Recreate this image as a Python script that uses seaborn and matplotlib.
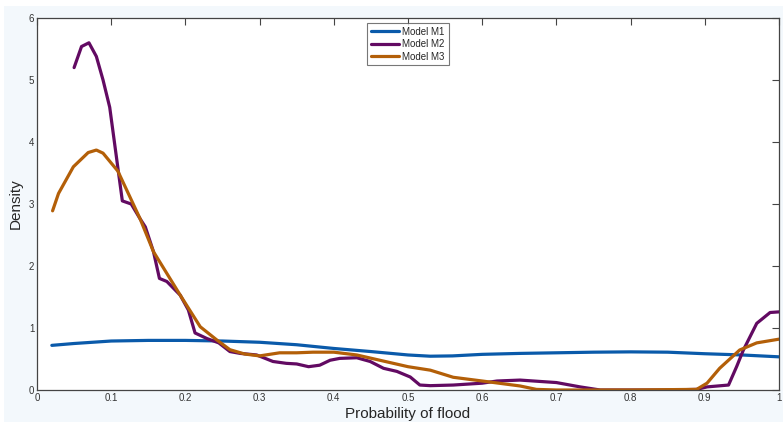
import pandas as pd
import matplotlib.pyplot as plt
import seaborn as sns
from matplotlib.patches import Rectangle

# Density curves
x_m1 = [0.02, 0.05, 0.1, 0.15, 0.2, 0.25, 0.3, 0.35, 0.4, 0.45, 0.5, 0.53, 0.56,
        0.6, 0.65, 0.7, 0.75, 0.8, 0.85, 0.9, 0.95, 1.0]
y_m1 = [0.72, 0.75, 0.79, 0.80, 0.80, 0.79, 0.77, 0.73, 0.67, 0.62, 0.565, 0.545, 0.55,
        0.575, 0.59, 0.60, 0.61, 0.615, 0.61, 0.585, 0.565, 0.535]

x_m2 = [0.05, 0.06, 0.07, 0.08, 0.089, 0.098, 0.115, 0.127, 0.139, 0.146, 0.157, 0.165,
        0.175, 0.193, 0.204, 0.213, 0.229, 0.245, 0.26, 0.274, 0.296, 0.318, 0.336,
        0.35, 0.366, 0.381, 0.395, 0.408, 0.431, 0.449, 0.467, 0.485, 0.503, 0.516,
        0.53, 0.561, 0.6, 0.62, 0.651, 0.7, 0.732, 0.759, 0.8, 0.85, 0.889, 0.903,
        0.932, 0.943, 0.952, 0.97, 0.988, 1.0]
y_m2 = [5.2, 5.54, 5.6, 5.38, 5.0, 4.56, 3.05, 3.0, 2.76, 2.63, 2.23, 1.8,
        1.75, 1.53, 1.29, 0.92, 0.83, 0.76, 0.62, 0.59, 0.565, 0.46, 0.43,
        0.42, 0.376, 0.40, 0.48, 0.51, 0.52, 0.46, 0.35, 0.30, 0.21, 0.08,
        0.07, 0.08, 0.11, 0.145, 0.16, 0.12, 0.05, 0.0, 0.0, 0.0, 0.01, 0.05,
        0.08, 0.38, 0.645, 1.075, 1.25, 1.26]

x_m3 = [0.021, 0.029, 0.049, 0.069, 0.08, 0.089, 0.109, 0.125, 0.139, 0.157, 0.193,
        0.22, 0.242, 0.26, 0.28, 0.30, 0.327, 0.35, 0.372, 0.40, 0.431, 0.462, 0.5,
        0.53, 0.561, 0.6, 0.651, 0.673, 0.7, 0.8, 0.889, 0.903, 0.92, 0.947, 0.97, 1.0]
y_m3 = [2.89, 3.17, 3.6, 3.83, 3.87, 3.82, 3.53, 3.12, 2.76, 2.23, 1.53,
        1.02, 0.81, 0.65, 0.58, 0.55, 0.60, 0.60, 0.61, 0.61, 0.565, 0.48, 0.376,
        0.32, 0.205, 0.145, 0.065, 0.01, 0.0, 0.0, 0.01, 0.11, 0.35, 0.645, 0.76, 0.82]

models = ['Model M1', 'Model M2', 'Model M3']
colors = ['#0a5aaa', '#620a62', '#b35f08']
x_ticks = [0, 0.1, 0.2, 0.3, 0.4, 0.5, 0.6, 0.7, 0.8, 0.9, 1]
x_tick_labels = ['0', '0.1', '0.2', '0.3', '0.4', '0.5', '0.6', '0.7', '0.8', '0.9', '1']
y_ticks = [0, 1, 2, 3, 4, 5, 6]

sns.set_style('white')
plt.rcParams['font.family'] = ['Liberation Sans', 'DejaVu Sans']

fig = plt.figure(figsize=(7.83, 4.22), dpi=100, facecolor='white')
fig.patches.append(Rectangle((4 / 783, 0), 1, 416 / 422, transform=fig.transFigure,
                             facecolor='#f3f8fc', edgecolor='none', zorder=-10))
ax = fig.add_axes([37 / 783, 32 / 422, 742 / 783, 372 / 422])
ax.set_facecolor('white')

series = [(x_m1, y_m1), (x_m2, y_m2), (x_m3, y_m3)]
for (xs, ys), name, c in zip(series, models, colors):
    sns.lineplot(x=xs, y=ys, ax=ax, color=c, lw=2.3, label=name)

ax.set_xlim(0, 1)
ax.set_ylim(0, 6)
ax.set_xticks(x_ticks)
ax.set_xticklabels(x_tick_labels)
ax.set_yticks(y_ticks)
ax.tick_params(direction='in', length=5, width=0.8, top=True, right=True,
               labelsize=7, colors='#444444', labelcolor='#333333', pad=2)
for s in ax.spines.values():
    s.set_color('#444444')
    s.set_linewidth(0.9)

ax.set_xlabel('Probability of flood', fontsize=11, labelpad=3)
ax.set_ylabel('Density', fontsize=11, labelpad=4)

leg = ax.legend(loc='upper center', bbox_to_anchor=(0.5, 0.987), fontsize=7,
                frameon=True, fancybox=False, edgecolor='#555555',
                handlelength=2.9, handletextpad=0.3, borderpad=0.4,
                labelspacing=0.25, borderaxespad=0)
leg.get_frame().set_linewidth(0.8)

plt.savefig('out.png', dpi=100)
